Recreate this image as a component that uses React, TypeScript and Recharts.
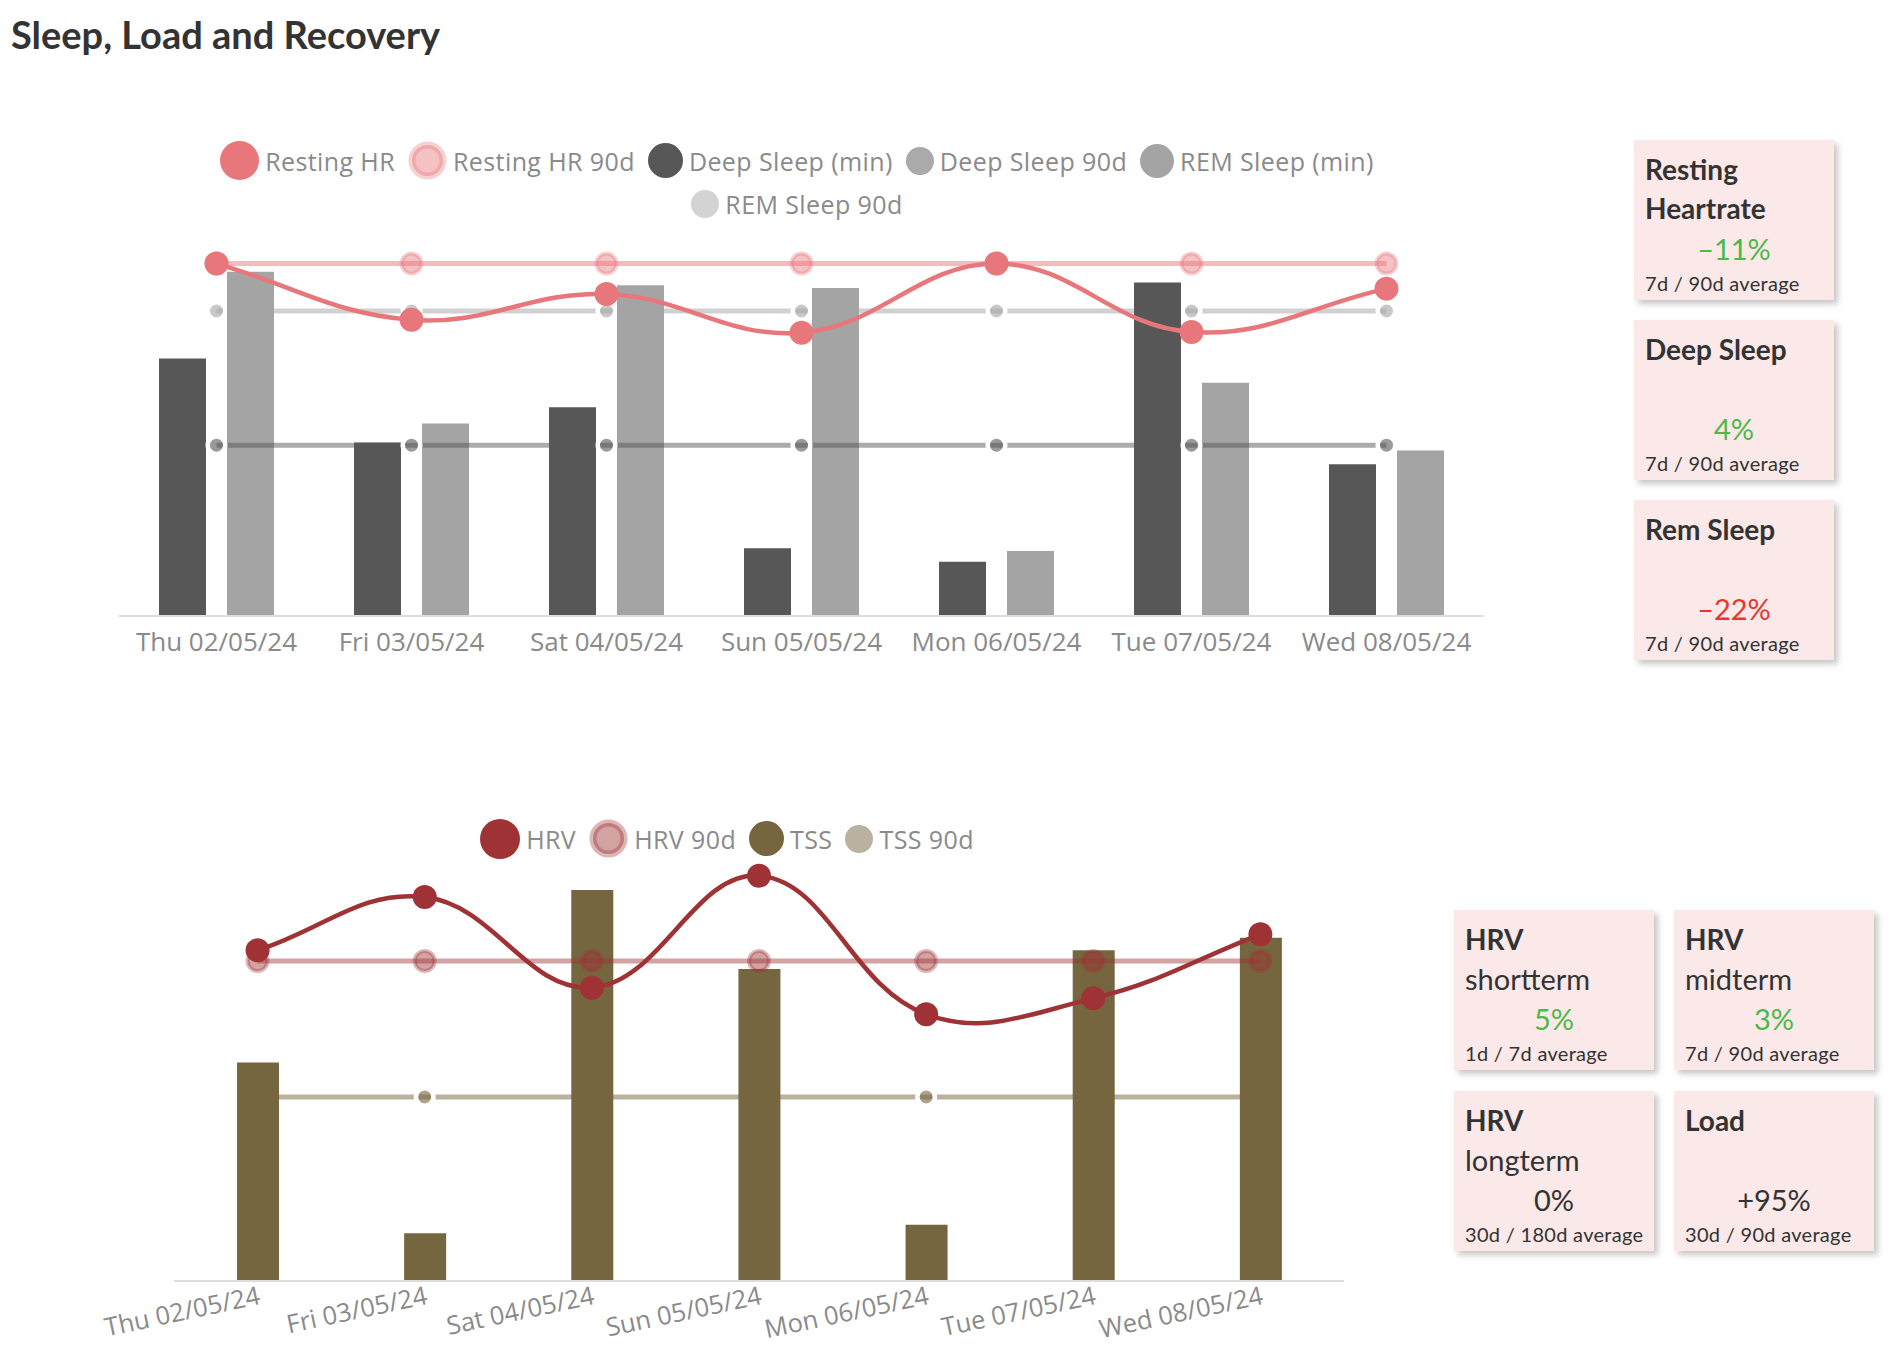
import React from 'react'
import { ComposedChart, Bar, Line, XAxis, YAxis, Legend } from 'recharts'

const days = [
  'Thu 02/05/24',
  'Fri 03/05/24',
  'Sat 04/05/24',
  'Sun 05/05/24',
  'Mon 06/05/24',
  'Tue 07/05/24',
  'Wed 08/05/24',
]

// top chart
const restingHr = [52, 43.7, 47.5, 41.8, 52, 41.9, 48.3]
const restingHr90 = [52, 52, 52, 52, 52, 52, 52]
const deepSleep = [95, 64, 77, 25, 20, 123, 56]
const deepSleep90 = [63, 63, 63, 63, 63, 63, 63]
const remSleep = [127, 71, 122, 121, 24, 86, 61]
const remSleep90 = [112.5, 112.5, 112.5, 112.5, 112.5, 112.5, 112.5]

// bottom chart
const hrv = [62, 72, 55, 76, 50, 53, 65]
const hrv90 = [60, 60, 60, 60, 60, 60, 60]
const tss = [105, 23, 188, 150, 27, 159, 165]
const tss90 = [88.5, 88.5, 88.5, 88.5, 88.5, 88.5, 88.5]

// cards
const sleepCardTitles = ['Resting Heartrate', 'Deep Sleep', 'Rem Sleep']
const sleepCardValues = ['–11%', '4%', '–22%']
const sleepCardCaptions = ['7d / 90d average', '7d / 90d average', '7d / 90d average']
const sleepCardTones = ['good', 'good', 'bad']

const loadCardTitles = ['HRV', 'HRV', 'HRV', 'Load']
const loadCardSubtitles = ['shortterm', 'midterm', 'longterm', '']
const loadCardValues = ['5%', '3%', '0%', '+95%']
const loadCardCaptions = ['1d / 7d average', '7d / 90d average', '30d / 180d average', '30d / 90d average']
const loadCardTones = ['good', 'good', 'neutral', 'neutral']

const HR_COLOR = '#e8777c'
const DEEP_COLOR = '#575757'
const REM_COLOR = '#a4a4a4'
const HRV_COLOR = '#9e3235'
const TSS_COLOR = '#76663f'

const TONE_COLORS: Record<string, string> = {
  good: '#4cb94a',
  bad: '#e8362d',
  neutral: '#333333',
}

const AXIS_FONT = '"Open Sans", sans-serif'
const CARD_FONT = 'Lato, "Open Sans", sans-serif'

const SLEEP_SIZE = { width: 1520, height: 680 }
const SLEEP_MARGIN = { top: 250, right: 36, bottom: 24, left: 119 }
const LOAD_SIZE = { width: 1400, height: 672 }
const LOAD_MARGIN = { top: 185, right: 56, bottom: 21, left: 174 }

const sleepData = days.map((day, i) => ({
  day,
  hr: restingHr[i],
  hr90: restingHr90[i],
  deep: deepSleep[i],
  deep90: deepSleep90[i],
  rem: remSleep[i],
  rem90: remSleep90[i],
}))

const loadData = days.map((day, i) => ({
  day,
  hrv: hrv[i],
  hrv90: hrv90[i],
  tss: tss[i],
  tss90: tss90[i],
}))

// chart.js style spline (tension), so the curve can overshoot like the original
const spline = (tension: number) => (context: any) => {
  let pts: number[][] = []
  return {
    areaStart() {},
    areaEnd() {},
    lineStart() {
      pts = []
    },
    point(x: number, y: number) {
      pts.push([+x, +y])
    },
    lineEnd() {
      const n = pts.length
      if (!n) return
      context.moveTo(pts[0][0], pts[0][1])
      if (n === 1) return
      const cps = pts.map((p, i) => {
        const prev = pts[Math.max(0, i - 1)]
        const next = pts[Math.min(n - 1, i + 1)]
        const d01 = Math.hypot(p[0] - prev[0], p[1] - prev[1])
        const d12 = Math.hypot(next[0] - p[0], next[1] - p[1])
        const sum = d01 + d12
        const fa = sum ? (tension * d01) / sum : 0
        const fb = sum ? (tension * d12) / sum : 0
        return {
          inX: p[0] - fa * (next[0] - prev[0]),
          inY: p[1] - fa * (next[1] - prev[1]),
          outX: p[0] + fb * (next[0] - prev[0]),
          outY: p[1] + fb * (next[1] - prev[1]),
        }
      })
      for (let i = 1; i < n; i++) {
        context.bezierCurveTo(cps[i - 1].outX, cps[i - 1].outY, cps[i].inX, cps[i].inY, pts[i][0], pts[i][1])
      }
    },
  }
}

const smooth = spline(0.4)

// dot styles
const avgDot = (color: string) => ({
  r: 8.75,
  fill: color,
  fillOpacity: 0.6,
  stroke: '#ffffff',
  strokeOpacity: 1,
  strokeWidth: 4.5,
})
const ringDot = (color: string) => ({
  r: 10,
  fill: color,
  fillOpacity: 0.45,
  stroke: color,
  strokeOpacity: 0.35,
  strokeWidth: 4,
})

interface LegendItem {
  label: string
  color: string
  size: number
  ring?: boolean
}

const topLegendRows: LegendItem[][] = [
  [
    { label: 'Resting HR', color: HR_COLOR, size: 39 },
    { label: 'Resting HR 90d', color: HR_COLOR, size: 39, ring: true },
    { label: 'Deep Sleep (min)', color: DEEP_COLOR, size: 35 },
    { label: 'Deep Sleep 90d', color: '#aaaaaa', size: 28 },
    { label: 'REM Sleep (min)', color: REM_COLOR, size: 34 },
  ],
  [{ label: 'REM Sleep 90d', color: '#d3d3d3', size: 28 }],
]

const bottomLegendRows: LegendItem[][] = [
  [
    { label: 'HRV', color: HRV_COLOR, size: 40 },
    { label: 'HRV 90d', color: HRV_COLOR, size: 39, ring: true },
    { label: 'TSS', color: TSS_COLOR, size: 35 },
    { label: 'TSS 90d', color: '#bab29f', size: 28 },
  ],
]

function LegendIcon({ item }: { item: LegendItem }) {
  const c = item.size / 2
  return (
    <svg width={item.size} height={item.size} style={{ display: 'block' }}>
      {item.ring ? (
        <circle
          cx={c}
          cy={c}
          r={c - 4}
          fill={item.color}
          fillOpacity={0.45}
          stroke={item.color}
          strokeOpacity={0.35}
          strokeWidth={7}
        />
      ) : (
        <circle cx={c} cy={c} r={c} fill={item.color} />
      )}
    </svg>
  )
}

function LegendRows({ rows }: { rows: LegendItem[][] }) {
  return (
    <div style={{ display: 'flex', flexDirection: 'column', alignItems: 'center' }}>
      {rows.map((row, r) => (
        <div key={r} style={{ display: 'flex', alignItems: 'center', height: 43 }}>
          {row.map((item, i) => (
            <div
              key={item.label}
              style={{ display: 'flex', alignItems: 'center', marginLeft: i === 0 ? 0 : 13 }}
            >
              <LegendIcon item={item} />
              <span
                style={{
                  marginLeft: 6,
                  fontFamily: AXIS_FONT,
                  fontSize: 25,
                  letterSpacing: 0.4,
                  color: '#8a8a8a',
                  whiteSpace: 'nowrap',
                }}
              >
                {item.label}
              </span>
            </div>
          ))}
        </div>
      ))}
    </div>
  )
}

interface CardProps {
  left: number
  top: number
  title: string
  subtitle?: string
  value: string
  tone: string
  caption: string
}

function StatCard({ left, top, title, subtitle, value, tone, caption }: CardProps) {
  return (
    <div
      style={{
        position: 'absolute',
        left,
        top,
        width: 200,
        height: 160,
        backgroundColor: '#fae9e8',
        boxShadow: '4px 4px 6px rgba(0,0,0,0.22)',
        fontFamily: CARD_FONT,
        color: '#333333',
      }}
    >
      <div style={{ position: 'absolute', left: 11, right: 6, top: 10, fontSize: 28, lineHeight: '39px' }}>
        <div style={{ fontWeight: 700 }}>{title}</div>
        {subtitle ? <div style={{ fontWeight: 400, fontSize: 29 }}>{subtitle}</div> : null}
      </div>
      <div
        style={{
          position: 'absolute',
          left: 0,
          right: 0,
          bottom: 34,
          textAlign: 'center',
          fontSize: 29,
          lineHeight: '35px',
          color: TONE_COLORS[tone],
        }}
      >
        {value}
      </div>
      <div
        style={{
          position: 'absolute',
          left: 11,
          bottom: 5,
          fontSize: 20,
          lineHeight: '24px',
          letterSpacing: 0.3,
          whiteSpace: 'nowrap',
        }}
      >
        {caption}
      </div>
    </div>
  )
}

const layer = { position: 'absolute' as const, left: 0, top: 0 }

function SleepChart() {
  return (
    <div style={{ position: 'absolute', left: 0, top: 0, ...SLEEP_SIZE }}>
      {/* the REM 90d line sits behind the bars */}
      <div style={layer}>
        <ComposedChart {...SLEEP_SIZE} data={sleepData} margin={SLEEP_MARGIN}>
          <XAxis dataKey="day" scale="band" interval={0} tick={false} tickLine={false} axisLine={false} height={40} />
          <YAxis yAxisId="sleep" hide domain={[0, 135]} />
          <Line
            yAxisId="sleep"
            dataKey="rem90"
            stroke={REM_COLOR}
            strokeOpacity={0.5}
            strokeWidth={5}
            dot={avgDot(REM_COLOR)}
            activeDot={false}
            isAnimationActive={false}
          />
        </ComposedChart>
      </div>
      <div style={layer}>
        <ComposedChart {...SLEEP_SIZE} data={sleepData} margin={SLEEP_MARGIN} barSize={47} barGap={21}>
          <XAxis
            dataKey="day"
            scale="band"
            interval={0}
            tickLine={false}
            axisLine={{ stroke: '#dddddd', strokeWidth: 2 }}
            tick={{ fill: '#8a8a8a', fontSize: 26, fontFamily: AXIS_FONT }}
            tickMargin={11}
            height={40}
          />
          <YAxis yAxisId="sleep" hide domain={[0, 135]} />
          <YAxis yAxisId="hr" hide domain={[0, 54]} />
          <Legend
            verticalAlign="middle"
            wrapperStyle={{ top: 139, left: 197, width: 1200 }}
            content={() => <LegendRows rows={topLegendRows} />}
          />
          <Bar yAxisId="sleep" dataKey="deep" fill={DEEP_COLOR} isAnimationActive={false} />
          <Bar yAxisId="sleep" dataKey="rem" fill={REM_COLOR} isAnimationActive={false} />
          <Line
            yAxisId="sleep"
            dataKey="deep90"
            stroke={DEEP_COLOR}
            strokeOpacity={0.5}
            strokeWidth={5}
            dot={avgDot(DEEP_COLOR)}
            activeDot={false}
            isAnimationActive={false}
          />
          <Line
            yAxisId="hr"
            dataKey="hr90"
            stroke={HR_COLOR}
            strokeOpacity={0.5}
            strokeWidth={5}
            dot={ringDot(HR_COLOR)}
            activeDot={false}
            isAnimationActive={false}
          />
          <Line
            yAxisId="hr"
            dataKey="hr"
            type={smooth as any}
            stroke={HR_COLOR}
            strokeWidth={4.5}
            dot={{ r: 12, fill: HR_COLOR, stroke: HR_COLOR, strokeWidth: 0 }}
            activeDot={false}
            isAnimationActive={false}
          />
        </ComposedChart>
      </div>
    </div>
  )
}

function LoadChart() {
  return (
    <div style={{ position: 'absolute', left: 0, top: 680, ...LOAD_SIZE }}>
      {/* the TSS 90d line sits behind the bars */}
      <div style={layer}>
        <ComposedChart {...LOAD_SIZE} data={loadData} margin={LOAD_MARGIN}>
          <XAxis dataKey="day" scale="band" interval={0} tick={false} tickLine={false} axisLine={false} height={50} />
          <YAxis yAxisId="tss" hide domain={[0, 200]} />
          <Line
            yAxisId="tss"
            dataKey="tss90"
            stroke={TSS_COLOR}
            strokeOpacity={0.5}
            strokeWidth={5}
            dot={avgDot(TSS_COLOR)}
            activeDot={false}
            isAnimationActive={false}
          />
        </ComposedChart>
      </div>
      <div style={layer}>
        <ComposedChart {...LOAD_SIZE} data={loadData} margin={LOAD_MARGIN} barSize={42}>
          <XAxis
            dataKey="day"
            scale="band"
            interval={0}
            tickLine={false}
            axisLine={{ stroke: '#dddddd', strokeWidth: 2 }}
            tick={{ fill: '#8a8a8a', fontSize: 25.5, fontFamily: AXIS_FONT }}
            angle={-12}
            textAnchor="end"
            tickMargin={-1}
            height={50}
          />
          <YAxis yAxisId="tss" hide domain={[0, 200]} />
          <YAxis yAxisId="hrv" hide domain={[0, 78]} />
          <Legend
            verticalAlign="middle"
            wrapperStyle={{ top: 137, left: 327, width: 800 }}
            content={() => <LegendRows rows={bottomLegendRows} />}
          />
          <Bar yAxisId="tss" dataKey="tss" fill={TSS_COLOR} isAnimationActive={false} />
          <Line
            yAxisId="hrv"
            dataKey="hrv90"
            stroke={HRV_COLOR}
            strokeOpacity={0.45}
            strokeWidth={5}
            dot={ringDot(HRV_COLOR)}
            activeDot={false}
            isAnimationActive={false}
          />
          <Line
            yAxisId="hrv"
            dataKey="hrv"
            type={smooth as any}
            stroke={HRV_COLOR}
            strokeWidth={4.5}
            dot={{ r: 12, fill: HRV_COLOR, stroke: HRV_COLOR, strokeWidth: 0 }}
            activeDot={false}
            isAnimationActive={false}
          />
        </ComposedChart>
      </div>
    </div>
  )
}

export default function App() {
  return (
    <div
      style={{
        position: 'absolute',
        left: 0,
        top: 0,
        width: 1898,
        height: 1352,
        backgroundColor: '#ffffff',
        overflow: 'hidden',
      }}
    >
      <div
        style={{
          position: 'absolute',
          left: 11,
          top: 11,
          fontFamily: CARD_FONT,
          fontWeight: 700,
          fontSize: 38,
          lineHeight: '46px',
          color: '#333333',
          whiteSpace: 'nowrap',
        }}
      >
        Sleep, Load and Recovery
      </div>

      <SleepChart />
      <LoadChart />

      {sleepCardTitles.map((title, i) => (
        <StatCard
          key={title}
          left={1634}
          top={140 + i * 180}
          title={title}
          value={sleepCardValues[i]}
          tone={sleepCardTones[i]}
          caption={sleepCardCaptions[i]}
        />
      ))}

      {loadCardTitles.map((title, i) => (
        <StatCard
          key={title + i}
          left={1454 + (i % 2) * 220}
          top={910 + Math.floor(i / 2) * 181}
          title={title}
          subtitle={loadCardSubtitles[i]}
          value={loadCardValues[i]}
          tone={loadCardTones[i]}
          caption={loadCardCaptions[i]}
        />
      ))}
    </div>
  )
}
